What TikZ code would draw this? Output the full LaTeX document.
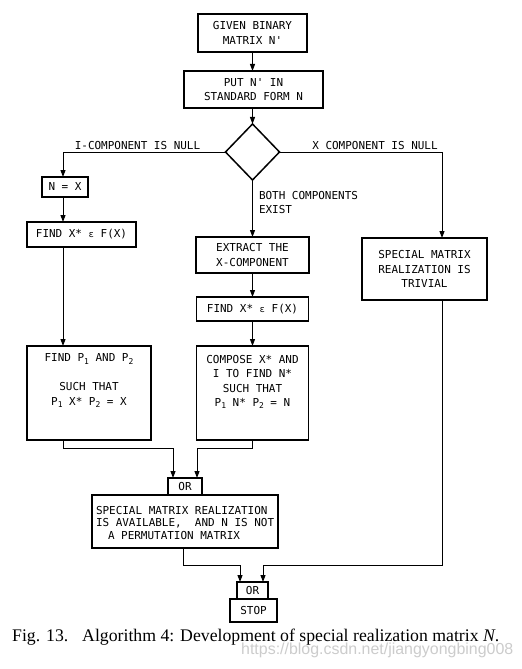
\documentclass[tikz,border=0pt]{standalone}
\usepackage{fontspec}
\setmainfont{Liberation Serif}
\newfontfamily\boxfont{DejaVu Sans Mono}
\newfontfamily\wmfont{Liberation Sans}
\usetikzlibrary{arrows.meta,shapes.geometric}
\newcommand\ix[1]{\raisebox{-2.5bp}{\fontsize{8}{8}\selectfont #1}}
\newcommand\elem{{\fontsize{9}{9}\selectfont ε}}
\newcommand\bfnt{\boxfont\fontsize{11}{14.5}\selectfont}
\begin{document}
\begin{tikzpicture}[x=1bp,y=-1bp,
  box/.style={draw,line width=1.5bp,inner sep=0,outer sep=0,align=center,font=\bfnt},
  txt/.style={inner sep=0,outer sep=0,align=center,font=\bfnt},
  conn/.style={line width=1bp,-{Triangle[length=7bp,width=5bp]}},
  lin/.style={line width=1bp}]
\useasboundingbox (0,0) rectangle (522,669);
\fill[white] (0,0) rectangle (522,669);

% watermark (behind caption)
\node[anchor=base west,inner sep=0,text=black!20,font=\wmfont\fontsize{16}{18}\selectfont] (wm) at (241,654) {https://blog.csdn.net/jiangyongbing008};

% boxes
\node[box,minimum width=109bp,minimum height=38bp] (b1) at (252.5,33) {GIVEN BINARY\\MATRIX N\textquotesingle};
\node[box,minimum width=139bp,minimum height=37bp] (b2) at (253.5,89.5) {PUT N\textquotesingle\ IN\\STANDARD FORM N};
\node[draw,diamond,line width=1.5bp,minimum width=54bp,minimum height=56bp,inner sep=0,outer sep=0] (dia) at (252.5,152) {};

\node[box,minimum width=46bp,minimum height=20bp] (bNX) at (65,187) {N = X};
\node[box,minimum width=109bp,minimum height=25bp] (bFX1) at (81.5,234.5) {FIND X* \elem\ F(X)};
\node[box,minimum width=124bp,minimum height=94bp] (bP) at (89,393) {};
\node[txt,anchor=north] (tP) at (89,354) {FIND P\ix{1} AND P\ix{2}\\[14.5bp]SUCH THAT\\P\ix{1} X* P\ix{2} = X};

\node[box,minimum width=113bp,minimum height=36bp] (bEX) at (252.5,255) {EXTRACT THE\\X-COMPONENT};
\node[box,minimum width=112bp,minimum height=24bp] (bFX2) at (252.5,309) {FIND X* \elem\ F(X)};
\node[box,minimum width=112bp,minimum height=94bp] (bC) at (252.5,393) {};
\node[txt,anchor=north] (tC) at (252.5,355) {COMPOSE X* AND\\I TO FIND N*\\SUCH THAT\\P\ix{1} N* P\ix{2} = N};

\node[box,minimum width=125bp,minimum height=62bp] (bT) at (424.5,269) {SPECIAL MATRIX\\REALIZATION IS\\TRIVIAL};

\node[box,minimum width=34bp,minimum height=17bp] (or1) at (185,486.5) {OR};
\node[box,minimum width=186bp,minimum height=53bp] (big) at (185,521.5) {};
\node[txt,align=left,anchor=north west,font=\boxfont\fontsize{11}{12.7}\selectfont] (tBig) at (96,506) {SPECIAL MATRIX REALIZATION\\IS AVAILABLE,~~AND N IS NOT\\\hspace*{12bp}A PERMUTATION MATRIX};

\node[box,minimum width=31bp,minimum height=17bp] (or2) at (252.5,590.5) {OR};
\node[box,minimum width=47bp,minimum height=23bp] (stop) at (253.5,610.5) {STOP};

% labels
\node[txt] (l1) at (137.5,146) {I-COMPONENT IS NULL};
\node[txt] (l2) at (375,146) {X COMPONENT IS NULL};
\node[txt,align=left,anchor=north west] (l3) at (259,191) {BOTH COMPONENTS\\EXIST};

% column coordinates
\coordinate (cL) at (63,0);
\coordinate (cR) at (442,0);
\coordinate (cB) at (183,0);
\coordinate (jy1) at (0,448);
\coordinate (jy2) at (0,565);
\coordinate (o1L) at (173,0);
\coordinate (o1R) at (197,0);
\coordinate (o2L) at (240,0);
\coordinate (o2R) at (263,0);

% connectors
\draw[conn] (b1.south) -- (b1.south |- b2.north);
\draw[conn] (b2.south -| dia.north) -- (dia.north);
\draw[conn] (dia.west) -| (bNX.north -| cL);
\draw[conn] (dia.east) -| (bT.north -| cR);
\draw[conn] (dia.south) -- (bEX.north);
\draw[conn] (bNX.south -| cL) -- (bFX1.north -| cL);
\draw[conn] (bFX1.south -| cL) -- (bP.north -| cL);
\draw[conn] (bEX.south) -- (bFX2.north);
\draw[conn] (bFX2.south) -- (bC.north);
\draw[conn] (bP.south -| cL) |- (jy1 -| o1L) -- (or1.north -| o1L);
\draw[conn] (bC.south) |- (jy1 -| o1R) -- (or1.north -| o1R);
\draw[conn] (big.south -| cB) |- (jy2 -| o2L) -- (or2.north -| o2L);
\draw[conn] (bT.south -| cR) |- (jy2 -| o2R) -- (or2.north -| o2R);

% caption
\node[anchor=base west,inner sep=0,font=\fontsize{17.8}{20}\selectfont] (cap1) at (12,641) {Fig. 13.};
\node[anchor=base west,inner sep=0,font=\fontsize{17.8}{20}\selectfont] (cap2) at (82,641) {Algorithm 4: Development of special realization matrix \textit{N}.};
\end{tikzpicture}
\end{document}
